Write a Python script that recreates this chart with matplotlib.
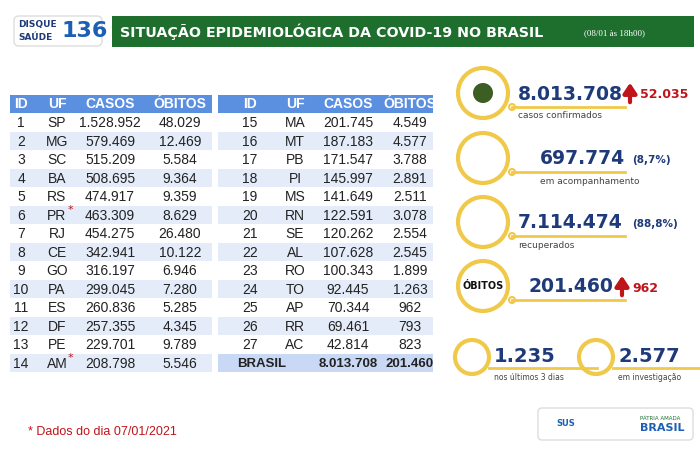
import matplotlib.pyplot as plt
from matplotlib.patches import Rectangle, Circle, FancyBboxPatch

ids_a = list(range(1, 15))
ufs_a = ["SP", "MG", "SC", "BA", "RS", "PR", "RJ", "CE", "GO", "PA", "ES", "DF", "PE", "AM"]
casos_a = ["1.528.952", "579.469", "515.209", "508.695", "474.917", "463.309", "454.275",
           "342.941", "316.197", "299.045", "260.836", "257.355", "229.701", "208.798"]
obitos_a = ["48.029", "12.469", "5.584", "9.364", "9.359", "8.629", "26.480",
            "10.122", "6.946", "7.280", "5.285", "4.345", "9.789", "5.546"]
ids_b = list(range(15, 28))
ufs_b = ["MA", "MT", "PB", "PI", "MS", "RN", "SE", "AL", "RO", "TO", "AP", "RR", "AC"]
casos_b = ["201.745", "187.183", "171.547", "145.997", "141.649", "122.591", "120.262",
           "107.628", "100.343", "92.445", "70.344", "69.461", "42.814"]
obitos_b = ["4.549", "4.577", "3.788", "2.891", "2.511", "3.078", "2.554",
            "2.545", "1.899", "1.263", "962", "793", "823"]
starred = ["PR", "AM"]

resumo = [("8.013.708", "casos confirmados", "52.035", None),
          ("697.774", "em acompanhamento", None, "(8,7%)"),
          ("7.114.474", "recuperados", None, "(88,8%)"),
          ("201.460", "", "962", None)]

blue = "#5b8fe0"
light = "#e4ecfa"
navy = "#1f3a7a"
gold = "#f0c94a"
red = "#c0141b"

fig = plt.figure(figsize=(7, 4.5), dpi=100)
ax = fig.add_axes([0, 0, 1, 1])
ax.set_xlim(0, 700)
ax.set_ylim(450, 0)
ax.axis("off")

# cabeçalho
ax.add_patch(FancyBboxPatch((14, 16), 88, 30, boxstyle="round,pad=0,rounding_size=5",
                            fc="white", ec="#dddddd", lw=1))
ax.text(18, 25, "DISQUE", fontsize=6.5, weight="bold", color=navy, va="center")
ax.text(18, 37, "SAÚDE", fontsize=6.5, weight="bold", color=navy, va="center")
ax.text(62, 31, "136", fontsize=16, weight="bold", color="#1d5fb4", va="center")
ax.add_patch(Rectangle((112, 16), 582, 31, fc="#1e6e2e", ec="none"))
ax.text(120, 32, "SITUAÇÃO EPIDEMIOLÓGICA DA COVID-19 NO BRASIL", fontsize=10.3,
        weight="bold", color="white", va="center")
ax.text(584, 33, "(08/01 às 18h00)", fontsize=6.5, color="white", va="center",
        family="Liberation Serif")

row_h = 18.5
y0 = 113


def tabela(x0, width, cols, ids, ufs, casos, obitos):
    ax.add_patch(Rectangle((x0, 95), width, 18, fc=blue, ec="none"))
    for cx, h in zip(cols, ["ID", "UF", "CASOS", "ÓBITOS"]):
        ax.text(cx, 104, h, ha="center", va="center", color="white", fontsize=10,
                weight="bold", family="Liberation Sans")
    for i in range(len(ids)):
        y = y0 + i * row_h
        if i % 2 == 1:
            ax.add_patch(Rectangle((x0, y), width, row_h, fc=light, ec="none"))
        vals = [str(ids[i]), ufs[i], casos[i], obitos[i]]
        for cx, v in zip(cols, vals):
            ax.text(cx, y + row_h / 2 + 1, v, ha="center", va="center", fontsize=10,
                    color="#222222", family="Liberation Sans")
        if ufs[i] in starred:
            ax.text(cols[1] + 13, y + 5, "*", color=red, fontsize=8, ha="center", va="center")


tabela(10, 202, [21, 57, 110, 180], ids_a, ufs_a, casos_a, obitos_a)
tabela(218, 215, [250, 295, 348, 410], ids_b, ufs_b, casos_b, obitos_b)
yb = y0 + 13 * row_h
ax.add_patch(Rectangle((218, yb), 215, row_h, fc="#c9d9f5", ec="none"))
for cx, v in zip([262, 348, 410], ["BRASIL", "8.013.708", "201.460"]):
    ax.text(cx, yb + row_h / 2 + 1, v, ha="center", va="center", fontsize=9.5,
            weight="bold", color="#222222", family="Liberation Sans")

ax.text(28, 432, "* Dados do dia 07/01/2021", color=red, fontsize=9, va="center",
        family="Liberation Sans")

# painel direito
ys = [93, 158, 222, 286]
num_x = [518, 540, 518, 528]
for k, (num, lab, up, pct) in enumerate(resumo):
    y = ys[k]
    ax.add_patch(Circle((483, y), 25, fc="white", ec=gold, lw=3))
    ax.plot([512, 625], [y + 14, y + 14], color=gold, lw=2)
    ax.add_patch(Circle((512, y + 14), 3, fc="white", ec=gold, lw=1.5))
    ax.text(num_x[k], y + 1, num, fontsize=13.5, weight="bold", color=navy, va="center")
    if lab:
        ax.text(num_x[k], y + 23, lab, fontsize=6.5, color="#444444", va="center")
    if up:
        ax_x = 630 if k == 0 else 622
        ax.annotate("", xy=(ax_x, y - 13), xytext=(ax_x, y + 12),
                    arrowprops=dict(arrowstyle="-|>,head_width=0.4,head_length=0.6",
                                    color=red, lw=3))
        ax.text(ax_x + 10, y + 2, up, fontsize=9, weight="bold", color=red, va="center")
    if pct:
        ax.text(632, y + 2, pct, fontsize=7.5, weight="bold", color=navy, va="center")
ax.text(483, 286, "ÓBITOS", fontsize=7, weight="bold", ha="center", va="center", color="#111111")
ax.add_patch(Circle((483, 93), 10, fc="#3d5e22", ec="none"))

for cx, num, lab in [(472, "1.235", "nos últimos 3 dias"), (596, "2.577", "em investigação")]:
    ax.add_patch(Circle((cx, 357), 17, fc="white", ec=gold, lw=3))
    ax.plot([cx + 17, cx + 125], [368, 368], color=gold, lw=2)
    ax.text(cx + 22, 357, num, fontsize=14, weight="bold", color=navy, va="center")
    ax.text(cx + 22, 378, lab, fontsize=5.5, color="#444444", va="center")

ax.add_patch(FancyBboxPatch((538, 408), 155, 32, boxstyle="round,pad=0,rounding_size=4",
                            fc="white", ec="#dddddd", lw=1))
ax.text(556, 424, "SUS", fontsize=6, weight="bold", color="#1d5fb4", va="center")
ax.text(640, 419, "PÁTRIA AMADA", fontsize=4, color="#1e6e2e", va="center")
ax.text(640, 428, "BRASIL", fontsize=8, weight="bold", color="#1d5fb4", va="center")

fig.savefig("out.png", dpi=100)
